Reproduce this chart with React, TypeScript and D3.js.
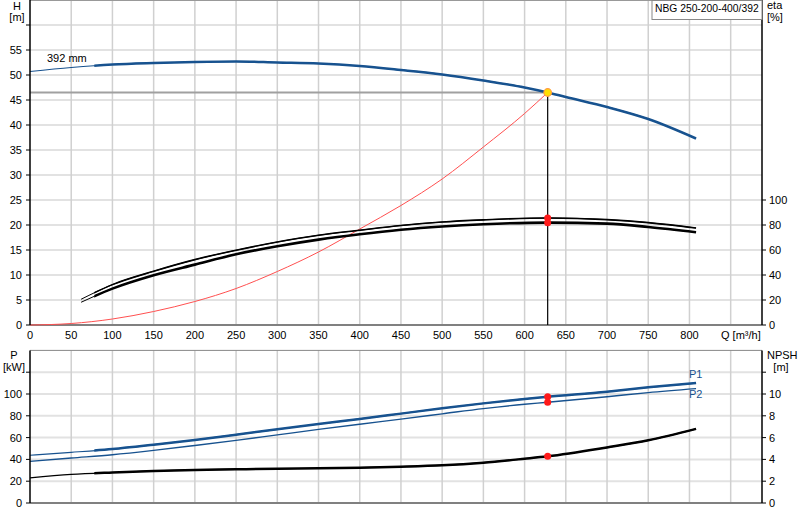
import * as d3 from "d3";

// pump curve data
const qHead = [0, 50, 100, 150, 200, 250, 300, 350, 400, 450, 500, 550, 600, 628, 650, 700, 750, 808];
const head = [50.7, 51.5, 52.1, 52.4, 52.6, 52.7, 52.5, 52.3, 51.8, 51.0, 50.1, 48.9, 47.5, 46.5, 45.6, 43.6, 41.2, 37.3];

const qSystem = [0, 50, 100, 150, 200, 250, 300, 350, 400, 450, 500, 550, 600, 628];
const hSystem = [0, 0.3, 1.2, 2.7, 4.7, 7.3, 10.7, 14.6, 19.2, 23.9, 29.2, 35.6, 42.3, 46.5];

const qEta = [62, 100, 150, 200, 250, 300, 350, 400, 450, 500, 550, 628, 700, 750, 808];
const etaPump = [20.6, 32.3, 43, 52.3, 59.8, 66.4, 71.8, 75.8, 79.6, 82.4, 84.1, 85.6, 84.3, 81.9, 77.6];
const etaTotal = [18.2, 29.1, 39.8, 48.3, 56.6, 63, 68.3, 72.6, 76.2, 78.8, 80.6, 81.9, 81.1, 78.4, 74.2];

const qPower = [0, 50, 100, 150, 200, 250, 300, 350, 400, 450, 500, 550, 600, 628, 700, 750, 808];
const powerP1 = [43.8, 46.5, 49.5, 53.5, 57.8, 62.7, 67.6, 72.5, 77.1, 82, 86.9, 91.4, 95.5, 97.5, 102.1, 106.1, 110];
const powerP2 = [38.2, 41.3, 44.3, 48.3, 52.8, 57.5, 62.5, 67.5, 72.3, 77, 81.8, 86.6, 90.6, 92.4, 97.5, 101.3, 104.9];
const npsh = [2.3, 2.62, 2.8, 2.94, 3.03, 3.09, 3.15, 3.18, 3.24, 3.33, 3.46, 3.7, 4.06, 4.28, 5.1, 5.75, 6.8];

const dutyQ = 628;
const dutyH = 46.5;
const dutyEta = [85.6, 81.9];
const dutyP = [97.5, 92.4];
const dutyNpsh = 4.28;

const qTicks = d3.range(0, 801, 50);
const hTicks = d3.range(0, 61, 5);
const etaTicks = d3.range(0, 101, 20);
const pTicks = d3.range(0, 121, 20);
const npshTicks = d3.range(0, 13, 2);

const title = "NBG 250-200-400/392";
const blue = "#17528f";
const font = "'Liberation Sans', Arial, sans-serif";

const App = () => {
    const left = 30, right = 762;
    const topH = 0, bottomH = 325;
    const topP = 350.4, bottomP = 503;

    const x = d3.scaleLinear().domain([0, 888]).range([left, right]);
    const yH = d3.scaleLinear().domain([0, 65]).range([bottomH, topH]);
    const yEta = d3.scaleLinear().domain([0, 260]).range([bottomH, topH]);
    const yP = d3.scaleLinear().domain([0, 140]).range([bottomP, topP]);
    const yN = d3.scaleLinear().domain([0, 14]).range([bottomP, topP]);

    const mk = (xs, ys, yScale) => d3.line()
        .x((d, i) => x(xs[i]))
        .y((d) => yScale(d))
        .curve(d3.curveMonotoneX)(ys);

    const headPath = mk(qHead, head, yH);
    const sysPath = mk(qSystem, hSystem, yH);
    const etaPPath = mk(qEta, etaPump, yEta);
    const etaTPath = mk(qEta, etaTotal, yEta);
    const p1Path = mk(qPower, powerP1, yP);
    const p2Path = mk(qPower, powerP2, yP);
    const npshPath = mk(qPower, npsh, yN);

    const thickFrom = x(78);

    return (
        <svg width={800} height={520} style={{ position: "absolute", left: 0, top: 0, fontFamily: font }}>
            <defs>
                <clipPath id="thick-top"><rect x={thickFrom} y={0} width={800} height={bottomH} /></clipPath>
                <clipPath id="thick-bottom"><rect x={thickFrom} y={topP} width={800} height={bottomP - topP} /></clipPath>
            </defs>
            <rect width={800} height={520} fill="white" />

            {/* top chart grid */}
            {hTicks.filter(d => d > 0).map(d => (
                <line key={"hg" + d} x1={left} x2={right} y1={yH(d)} y2={yH(d)} stroke="#e2e2e2" strokeWidth={2} />
            ))}
            {qTicks.concat([850]).filter(d => d > 0).map(d => (
                <line key={"vg" + d} x1={x(d)} x2={x(d)} y1={topH} y2={bottomH} stroke="#d0d0d0" strokeWidth={1.5} />
            ))}
            <line x1={left} x2={right} y1={topH + 0.5} y2={topH + 0.5} stroke="#999" strokeWidth={1} />

            {/* bottom chart grid */}
            {pTicks.filter(d => d > 0).map(d => (
                <line key={"pg" + d} x1={left} x2={right} y1={yP(d)} y2={yP(d)} stroke="#e2e2e2" strokeWidth={2} />
            ))}
            {qTicks.concat([850]).filter(d => d > 0).map(d => (
                <line key={"vg2" + d} x1={x(d)} x2={x(d)} y1={topP} y2={bottomP} stroke="#d0d0d0" strokeWidth={1.5} />
            ))}
            <line x1={left} x2={right} y1={topP} y2={topP} stroke="#888" strokeWidth={1} />

            {/* zero lines */}
            <line x1={left} x2={right} y1={bottomH} y2={bottomH} stroke="#808080" strokeWidth={2} />
            <line x1={left} x2={right} y1={bottomP} y2={bottomP} stroke="#808080" strokeWidth={2} />

            {/* duty lines */}
            <line x1={left} x2={x(dutyQ)} y1={yH(dutyH)} y2={yH(dutyH)} stroke="#a0a0a0" strokeWidth={2} />
            <line x1={x(dutyQ)} x2={x(dutyQ)} y1={yH(dutyH)} y2={bottomH} stroke="black" strokeWidth={1.2} />

            {/* system curve */}
            <path d={sysPath} fill="none" stroke="#ff5050" strokeWidth={1} />

            {/* head curve */}
            <path d={headPath} fill="none" stroke={blue} strokeWidth={1.2} />
            <path d={headPath} fill="none" stroke={blue} strokeWidth={2.5} clipPath="url(#thick-top)" />

            {/* efficiency curves */}
            <path d={etaPPath} fill="none" stroke="black" strokeWidth={1} />
            <path d={etaPPath} fill="none" stroke="black" strokeWidth={1.6} clipPath="url(#thick-top)" />
            <path d={etaTPath} fill="none" stroke="black" strokeWidth={1} />
            <path d={etaTPath} fill="none" stroke="black" strokeWidth={2.6} clipPath="url(#thick-top)" />

            {/* power and npsh curves */}
            <path d={p1Path} fill="none" stroke={blue} strokeWidth={1.2} />
            <path d={p1Path} fill="none" stroke={blue} strokeWidth={2.5} clipPath="url(#thick-bottom)" />
            <path d={p2Path} fill="none" stroke={blue} strokeWidth={1.4} />
            <path d={npshPath} fill="none" stroke="black" strokeWidth={1.2} />
            <path d={npshPath} fill="none" stroke="black" strokeWidth={2.5} clipPath="url(#thick-bottom)" />

            {/* duty markers */}
            {dutyEta.map((d, i) => (
                <circle key={"de" + i} cx={x(dutyQ)} cy={yEta(d)} r={3.5} fill="#ff1a1a" />
            ))}
            {dutyP.map((d, i) => (
                <circle key={"dp" + i} cx={x(dutyQ)} cy={yP(d)} r={3.5} fill="#ff1a1a" />
            ))}
            <circle cx={x(dutyQ)} cy={yN(dutyNpsh)} r={3.5} fill="#ff1a1a" />
            <circle cx={x(dutyQ)} cy={yH(dutyH)} r={3.8} fill="#ffe000" stroke="#ff9a40" strokeWidth={1.2} />

            {/* axes */}
            <line x1={left} x2={left} y1={topH} y2={bottomH} stroke="black" strokeWidth={1.5} />
            <line x1={right} x2={right} y1={topH} y2={bottomH} stroke="black" strokeWidth={1.5} />
            <line x1={left} x2={left} y1={topP} y2={bottomP} stroke="black" strokeWidth={1.5} />
            <line x1={right} x2={right} y1={topP} y2={bottomP} stroke="black" strokeWidth={1.5} />

            {hTicks.map(d => (
                <g key={"ht" + d}>
                    <line x1={left - 4} x2={left} y1={yH(d)} y2={yH(d)} stroke="black" />
                    {d <= 55 && <text x={left - 8} y={yH(d) + 4} fontSize={11} textAnchor="end">{d}</text>}
                </g>
            ))}
            {etaTicks.map(d => (
                <g key={"et" + d}>
                    <line x1={right} x2={right + 4} y1={yEta(d)} y2={yEta(d)} stroke="black" />
                    <text x={right + 7} y={yEta(d) + 4} fontSize={11}>{d}</text>
                </g>
            ))}
            {pTicks.map(d => (
                <g key={"pt" + d}>
                    <line x1={left - 4} x2={left} y1={yP(d)} y2={yP(d)} stroke="black" />
                    {d <= 100 && <text x={left - 8} y={yP(d) + 4} fontSize={11} textAnchor="end">{d}</text>}
                </g>
            ))}
            {npshTicks.map(d => (
                <g key={"nt" + d}>
                    <line x1={right} x2={right + 4} y1={yN(d)} y2={yN(d)} stroke="black" />
                    {d <= 10 && <text x={right + 7} y={yN(d) + 4} fontSize={11}>{d}</text>}
                </g>
            ))}
            {qTicks.map(d => (
                <text key={"qt" + d} x={x(d)} y={bottomH + 14} fontSize={11} textAnchor="middle">{d}</text>
            ))}

            {/* axis titles */}
            <text x={17} y={10} fontSize={11} textAnchor="middle">H</text>
            <text x={17} y={21} fontSize={11} textAnchor="middle">[m]</text>
            <text x={767} y={9} fontSize={11}>eta</text>
            <text x={767} y={21} fontSize={11}>[%]</text>
            <text x={721} y={339} fontSize={11}>Q [m³/h]</text>
            <text x={14} y={359} fontSize={11} textAnchor="middle">P</text>
            <text x={14} y={371} fontSize={11} textAnchor="middle">[kW]</text>
            <text x={767} y={359} fontSize={11}>NPSH</text>
            <text x={781} y={371} fontSize={11} textAnchor="middle">[m]</text>

            {/* curve labels */}
            <text x={47} y={62} fontSize={11}>392 mm</text>
            <text x={689} y={378} fontSize={11} fill={blue}>P1</text>
            <text x={689} y={398} fontSize={11} fill={blue}>P2</text>

            {/* title box */}
            <rect x={652} y={0.5} width={right - 652} height={19} fill="white" stroke="#888" strokeWidth={1} />
            <text x={655} y={12} fontSize={10.3}>{title}</text>
        </svg>
    );
};

export default App;
